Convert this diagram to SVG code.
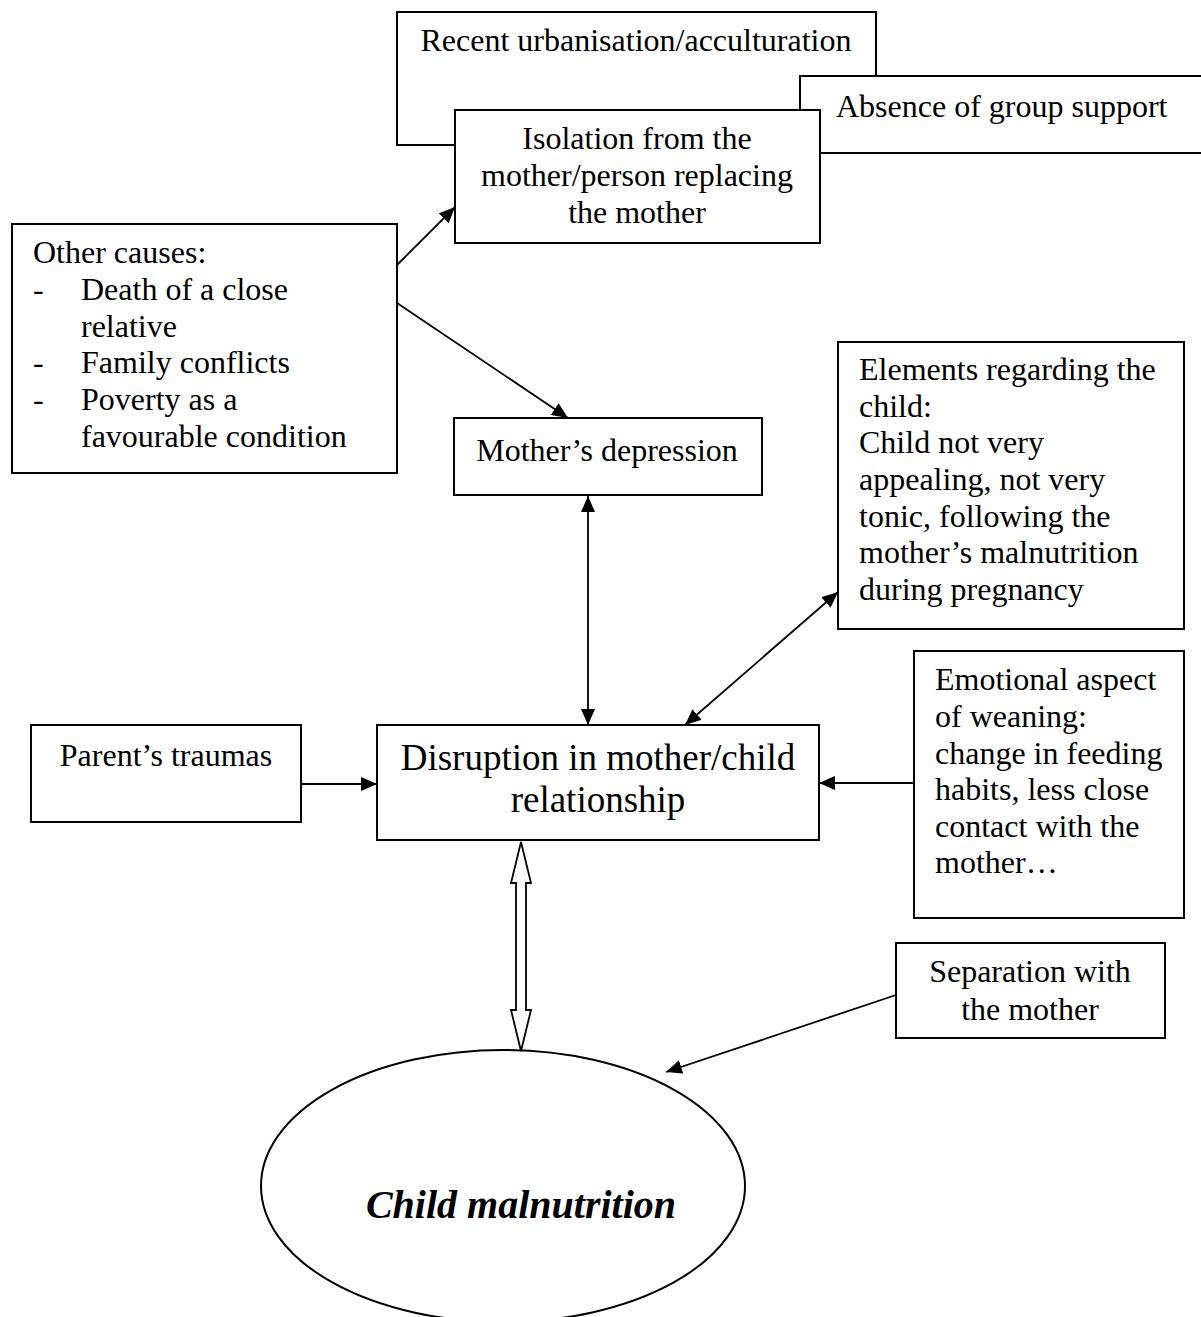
<svg xmlns="http://www.w3.org/2000/svg" width="1201" height="1317" viewBox="0 0 1201 1317">
  <style>
    .box { fill: #ffffff; stroke: #000000; stroke-width: 2; }
    .t { font-family: "Liberation Serif", "Times New Roman", serif; font-size: 32px; fill: #000000; }
    .c { text-anchor: middle; }
    .big { font-size: 37px; }
    .title { font-size: 40px; font-weight: bold; font-style: italic; }
    .edge { fill: none; stroke: #000000; stroke-width: 1.8; }
  </style>
  <defs>
    <marker id="arrow" viewBox="0 0 16 14" refX="16" refY="7" markerWidth="16" markerHeight="14" markerUnits="userSpaceOnUse" orient="auto-start-reverse">
      <path d="M0,0 L16,7 L0,14 Z" fill="#000000"/>
    </marker>
  </defs>
  <rect width="1201" height="1317" fill="#ffffff"/>

  <g id="recent-urbanisation">
    <rect class="box" x="397" y="12" width="479" height="133"/>
    <text class="t c" x="636" y="51">Recent urbanisation/acculturation</text>
  </g>

  <g id="group-support">
    <rect class="box" x="800" y="76" width="410" height="77"/>
    <text class="t" x="836" y="117">Absence of group support</text>
  </g>

  <g id="isolation">
    <rect class="box" x="455" y="110" width="365" height="133"/>
    <text class="t c" x="637" y="149">Isolation from the</text>
    <text class="t c" x="637" y="186">mother/person replacing</text>
    <text class="t c" x="637" y="223">the mother</text>
  </g>

  <g id="other-causes">
    <rect class="box" x="12" y="224" width="385" height="249"/>
    <text class="t" x="33" y="263">Other causes:</text>
    <text class="t" x="33" y="300">-</text>
    <text class="t" x="81" y="300">Death of a close</text>
    <text class="t" x="81" y="337">relative</text>
    <text class="t" x="33" y="373">-</text>
    <text class="t" x="81" y="373">Family conflicts</text>
    <text class="t" x="33" y="410">-</text>
    <text class="t" x="81" y="410">Poverty as a</text>
    <text class="t" x="81" y="447">favourable condition</text>
  </g>

  <g id="mothers-depression">
    <rect class="box" x="454" y="418" width="308" height="77"/>
    <text class="t c" x="607" y="461">Mother’s depression</text>
  </g>

  <g id="child-elements">
    <rect class="box" x="838" y="342" width="346" height="287"/>
    <text class="t" x="859" y="380">Elements regarding the</text>
    <text class="t" x="859" y="417">child:</text>
    <text class="t" x="859" y="453">Child not very</text>
    <text class="t" x="859" y="490">appealing, not very</text>
    <text class="t" x="859" y="527">tonic, following the</text>
    <text class="t" x="859" y="563">mother’s malnutrition</text>
    <text class="t" x="859" y="600">during pregnancy</text>
  </g>

  <g id="parents-traumas">
    <rect class="box" x="31" y="725" width="270" height="97"/>
    <text class="t c" x="166" y="766">Parent’s traumas</text>
  </g>

  <g id="disruption">
    <rect class="box" x="377" y="725" width="442" height="115"/>
    <text class="t big c" x="598" y="770">Disruption in mother/child</text>
    <text class="t big c" x="598" y="812">relationship</text>
  </g>

  <g id="weaning">
    <rect class="box" x="914" y="651" width="270" height="267"/>
    <text class="t" x="935" y="690">Emotional aspect</text>
    <text class="t" x="935" y="727">of weaning:</text>
    <text class="t" x="935" y="764">change in feeding</text>
    <text class="t" x="935" y="800">habits, less close</text>
    <text class="t" x="935" y="837">contact with the</text>
    <text class="t" x="935" y="873">mother…</text>
  </g>

  <g id="separation">
    <rect class="box" x="896" y="943" width="269" height="95"/>
    <text class="t c" x="1030" y="982">Separation with</text>
    <text class="t c" x="1030" y="1020">the mother</text>
  </g>

  <g id="child-malnutrition">
    <ellipse class="box" cx="503" cy="1186" rx="242" ry="136"/>
    <text class="t title c" x="521" y="1218">Child malnutrition</text>
  </g>

  <g id="connectors">
    <line class="edge" x1="397" y1="265" x2="455" y2="207" marker-end="url(#arrow)"/>
    <line class="edge" x1="397" y1="303" x2="568" y2="418" marker-end="url(#arrow)"/>
    <line class="edge" x1="588" y1="496" x2="588" y2="725" marker-start="url(#arrow)" marker-end="url(#arrow)"/>
    <line class="edge" x1="838" y1="592" x2="685" y2="725" marker-start="url(#arrow)" marker-end="url(#arrow)"/>
    <line class="edge" x1="301" y1="784" x2="377" y2="784" marker-end="url(#arrow)"/>
    <line class="edge" x1="914" y1="783" x2="819" y2="783" marker-end="url(#arrow)"/>
    <line class="edge" x1="896" y1="995" x2="666" y2="1072" marker-end="url(#arrow)"/>
    <path d="M521,842 L531,883 L526,883 L526,1010 L531,1010 L521,1051 L511,1010 L516,1010 L516,883 L511,883 Z" fill="#ffffff" stroke="#000000" stroke-width="1.8" stroke-linejoin="miter"/>
  </g>
</svg>
